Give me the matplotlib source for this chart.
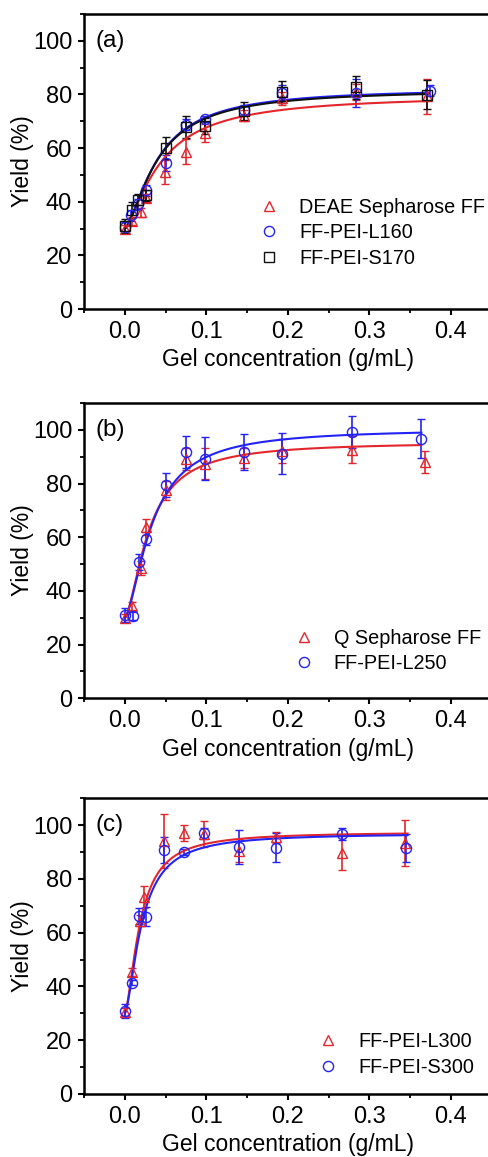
import numpy as np
import matplotlib.pyplot as plt
from matplotlib.ticker import MultipleLocator

plt.rcParams['font.family'] = ['Liberation Sans', 'DejaVu Sans']

RED = '#e3262b'
BLUE = '#2323f5'
BLACK = '#101010'

# panel (a)
a_deae_x = [0, 0.0085, 0.0196, 0.0255, 0.049, 0.0757, 0.099, 0.146, 0.193, 0.2834, 0.3714]
a_deae_y = [30, 33, 36, 41.5, 51, 58.7, 65.7, 72.1, 78.5, 81.0, 79.3]
a_deae_e = [1.5, 1.5, 1.5, 1.5, 4.5, 4.6, 3.4, 2, 2.5, 3, 6.5]
a_l160_x = [0, 0.0075, 0.0165, 0.0255, 0.0505, 0.0757, 0.099, 0.146, 0.193, 0.2834, 0.3746]
a_l160_y = [30.5, 35, 39, 44.2, 54.6, 68.8, 70.9, 74.2, 80.5, 80.5, 81.4]
a_l160_e = [2, 2, 2, 2, 3, 2, 1, 2, 3, 5.3, 2]
a_s170_x = [0, 0.0094, 0.0164, 0.0258, 0.0503, 0.0757, 0.099, 0.146, 0.193, 0.2834, 0.3714]
a_s170_y = [30.9, 36.8, 40.8, 42.4, 60, 67.8, 68.4, 73.8, 80.8, 82.6, 79.9]
a_s170_e = [2.5, 3, 2, 2, 4.2, 4.2, 3, 3.5, 4.1, 4.4, 5.5]

# panel (b)
b_q_x = [0, 0.0094, 0.0196, 0.0258, 0.051, 0.0748, 0.0986, 0.146, 0.193, 0.2794, 0.368]
b_q_y = [30, 34.3, 48.5, 63.8, 77.5, 89.2, 87.4, 89.5, 92, 92.6, 88]
b_q_e = [1.5, 1.5, 2.5, 3, 3.5, 4, 5.8, 3.8, 4.4, 5, 4]
b_l250_x = [0, 0.0102, 0.0176, 0.0258, 0.051, 0.0748, 0.0986, 0.146, 0.193, 0.2794, 0.364]
b_l250_y = [31, 30.7, 50.8, 59.5, 79.6, 91.7, 89.2, 91.7, 91.1, 99.1, 96.7]
b_l250_e = [2.5, 1.5, 3, 2.5, 4.5, 5.9, 8, 6.6, 7.7, 6, 7.3]

# panel (c)
c_l300_x = [0, 0.0094, 0.0188, 0.0237, 0.0483, 0.0728, 0.0973, 0.140, 0.185, 0.266, 0.3436]
c_l300_y = [30.6, 45.5, 64.5, 73.3, 94.2, 96.9, 96.8, 90.5, 95.5, 89.7, 93.4]
c_l300_e = [1.5, 1.5, 2, 4, 10, 3, 4.8, 4.3, 2, 6.5, 8.6]
c_s300_x = [0, 0.0094, 0.0176, 0.0258, 0.0483, 0.0728, 0.0973, 0.140, 0.185, 0.266, 0.345]
c_s300_y = [30.9, 41.4, 66.2, 65.9, 90.7, 90, 96.9, 91.9, 91.6, 96.6, 91.6]
c_s300_e = [2.5, 1, 3, 3.5, 4.7, 1, 2.2, 6.2, 5.3, 2.2, 5.2]

# fitted curve parameters (y0, A, K, n), y = y0 + A x^n / (K^n + x^n)
fit_a = {'red': (30, 50, 0.045, 1.4), 'blue': (30, 52.5, 0.041, 1.5), 'black': (30, 52, 0.041, 1.5)}
fit_b = {'red': (30, 65.5, 0.030, 1.6), 'blue': (30, 70.5, 0.034, 1.6)}
fit_c = {'red': (30, 67.5, 0.019, 1.6), 'blue': (30, 67, 0.021, 1.6)}
xend = {'a': 0.373, 'b': 0.364, 'c': 0.347}


def hill(x, p):
    y0, A, K, n = p
    return y0 + A * x**n / (K**n + x**n)


fig = plt.figure(figsize=(4.89, 11.57), dpi=100)
W = 407.5 / 489
L = 84 / 489
axes = [fig.add_axes([L, 0.7329, W, 0.2550]),
        fig.add_axes([L, 0.3965, W, 0.2552]),
        fig.add_axes([L, 0.0545, W, 0.2556])]

MS = 7.3
mk = dict(ls='none', mfc='none', ms=MS, mew=1.0, capsize=2.8, elinewidth=1.2, capthick=1.2)


def series(ax, x, y, e, m, c, label):
    ax.errorbar(x, y, yerr=e, marker=m, color=c, mec=c, **mk)
    ax.plot([], [], ls='none', marker=m, mfc='none', mec=c, ms=MS, mew=1.0, label=label)


def curve(ax, p, c, x1):
    xx = np.linspace(0.0005, x1, 400)
    ax.plot(xx, hill(xx, p), color=c, lw=1.5)


ax = axes[0]
series(ax, a_deae_x, a_deae_y, a_deae_e, '^', RED, 'DEAE Sepharose FF')
series(ax, a_l160_x, a_l160_y, a_l160_e, 'o', BLUE, 'FF-PEI-L160')
series(ax, a_s170_x, a_s170_y, a_s170_e, 's', BLACK, 'FF-PEI-S170')
curve(ax, fit_a['red'], RED, xend['a'])
curve(ax, fit_a['blue'], BLUE, xend['a'])
curve(ax, fit_a['black'], BLACK, xend['a'])

ax = axes[1]
series(ax, b_q_x, b_q_y, b_q_e, '^', RED, 'Q Sepharose FF')
series(ax, b_l250_x, b_l250_y, b_l250_e, 'o', BLUE, 'FF-PEI-L250')
curve(ax, fit_b['red'], RED, xend['b'])
curve(ax, fit_b['blue'], BLUE, xend['b'])

ax = axes[2]
series(ax, c_l300_x, c_l300_y, c_l300_e, '^', RED, 'FF-PEI-L300')
series(ax, c_s300_x, c_s300_y, c_s300_e, 'o', BLUE, 'FF-PEI-S300')
curve(ax, fit_c['red'], RED, xend['c'])
curve(ax, fit_c['blue'], BLUE, xend['c'])

legpos = [(0.43, 0.378), (0.515, 0.235), (0.575, 0.208)]
for ax, tag, lp in zip(axes, ['(a)', '(b)', '(c)'], legpos):
    ax.set_xlim(-0.05, 0.45)
    ax.set_ylim(0, 110)
    ax.xaxis.set_major_locator(MultipleLocator(0.1))
    ax.xaxis.set_minor_locator(MultipleLocator(0.05))
    ax.yaxis.set_major_locator(MultipleLocator(20))
    ax.yaxis.set_minor_locator(MultipleLocator(10))
    ax.xaxis.set_major_formatter(lambda v, pos: f'{v:.1f}')
    ax.tick_params(which='major', direction='out', length=4.5, width=1.5, labelsize=17, pad=4)
    ax.tick_params(which='minor', direction='out', length=2.8, width=1.3)
    for s in ax.spines.values():
        s.set_linewidth(1.8)
    ax.set_xlabel('Gel concentration (g/mL)', fontsize=16.5, labelpad=4)
    ax.set_ylabel('Yield (%)', fontsize=16.5, labelpad=-1)
    ax.text(0.027, 0.945, tag, transform=ax.transAxes, fontsize=17.5, va='top', ha='left')
    ax.legend(loc='upper left', bbox_to_anchor=lp, frameon=False, fontsize=14.3,
              handlelength=1.0, handletextpad=1.0, labelspacing=0.33,
              borderpad=0, borderaxespad=0)

fig.savefig('out.png', dpi=100)
